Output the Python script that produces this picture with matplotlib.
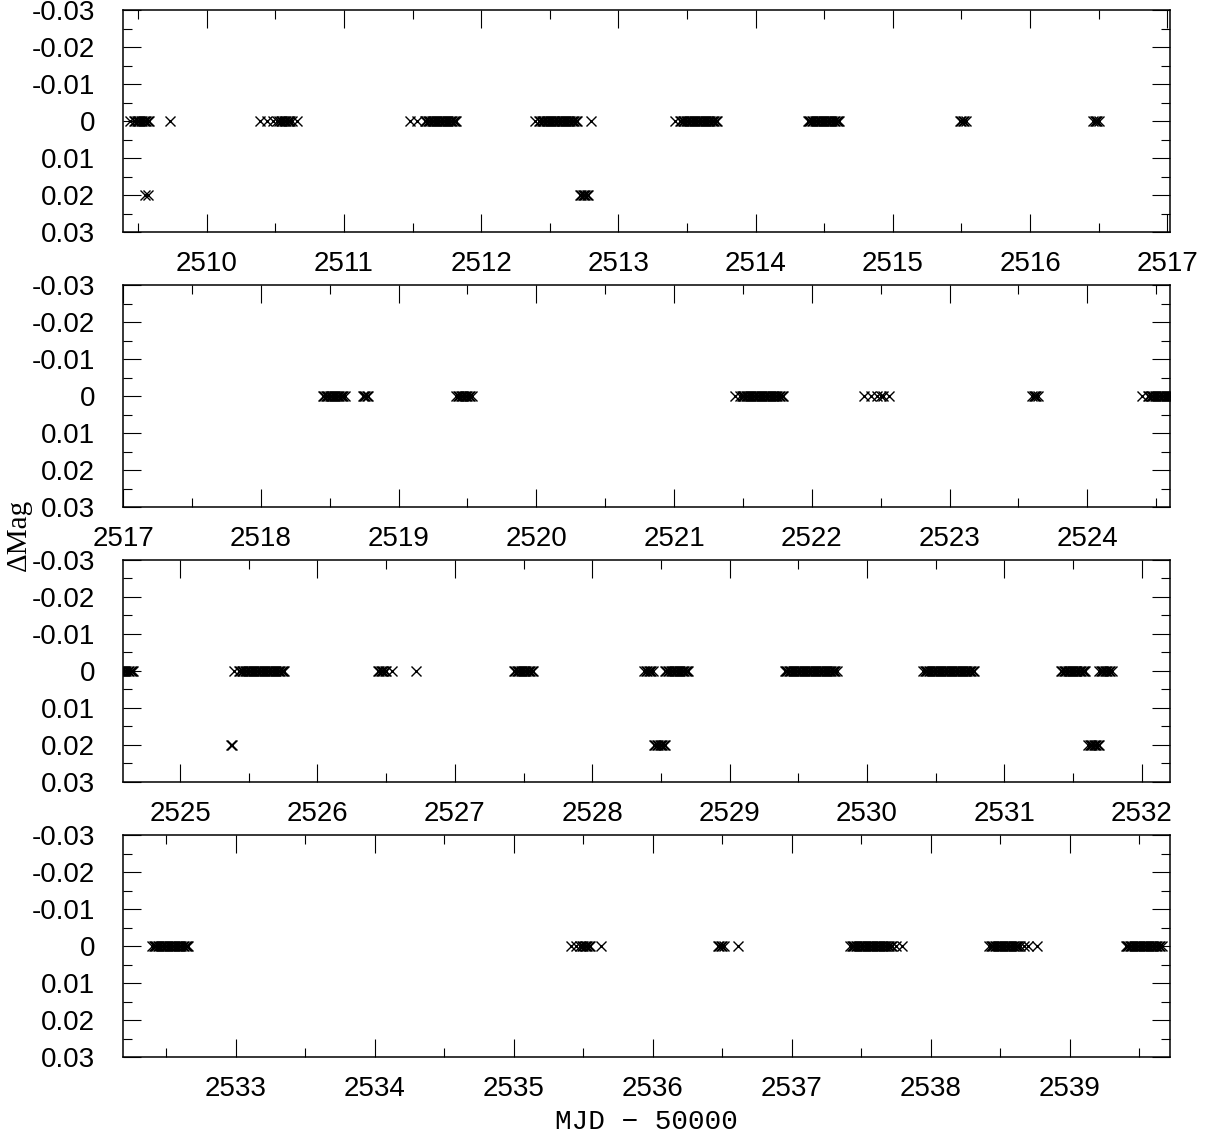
import matplotlib
matplotlib.use("Agg")
import matplotlib.pyplot as plt
from matplotlib.ticker import MultipleLocator, FuncFormatter
import numpy as np

plt.rcParams['font.family'] = ['Liberation Sans', 'DejaVu Sans']
plt.rcParams['axes.unicode_minus'] = False

# observation times (MJD - 50000) of points lying at dMag = 0
mjd_zero = [
    # 2509 - 2517
    2509.44, 2509.47, 2509.48, 2509.49, 2509.50, 2509.51, 2509.52, 2509.53, 2509.54, 2509.55,
    2509.56, 2509.57, 2509.58,
    2509.73,
    2510.39, 2510.44, 2510.48, 2510.51, 2510.53, 2510.54, 2510.55, 2510.56, 2510.57, 2510.58,
    2510.59, 2510.60, 2510.61, 2510.62, 2510.66,
    2511.48, 2511.53, 2511.59, 2511.60, 2511.61, 2511.62, 2511.63, 2511.64, 2511.65, 2511.66,
    2511.67, 2511.68, 2511.69, 2511.70, 2511.71, 2511.72, 2511.73, 2511.74, 2511.75, 2511.76,
    2511.77, 2511.78, 2511.79, 2511.80, 2511.81, 2511.82,
    2512.39, 2512.42, 2512.43, 2512.44, 2512.45, 2512.46, 2512.47, 2512.48, 2512.49, 2512.50,
    2512.51, 2512.52, 2512.53, 2512.54, 2512.55, 2512.56, 2512.57, 2512.58, 2512.59, 2512.60,
    2512.61, 2512.62, 2512.63, 2512.64, 2512.65, 2512.66, 2512.67, 2512.68, 2512.69, 2512.70,
    2512.80,
    2513.41, 2513.45, 2513.46, 2513.47, 2513.48, 2513.49, 2513.50, 2513.51, 2513.52, 2513.53,
    2513.54, 2513.55, 2513.56, 2513.57, 2513.58, 2513.59, 2513.60, 2513.61, 2513.62, 2513.63,
    2513.64, 2513.65, 2513.66, 2513.67, 2513.68, 2513.69, 2513.70, 2513.71, 2513.72,
    2514.38, 2514.39, 2514.40, 2514.41, 2514.42, 2514.43, 2514.44, 2514.45, 2514.46, 2514.47,
    2514.48, 2514.49, 2514.50, 2514.51, 2514.52, 2514.53, 2514.54, 2514.55, 2514.56, 2514.57,
    2514.58, 2514.59, 2514.60, 2514.61,
    2515.49, 2515.50, 2515.51, 2515.52, 2515.53,
    2516.46, 2516.47, 2516.48, 2516.49, 2516.50,
    # 2517 - 2524.6
    2518.45, 2518.46, 2518.47, 2518.48, 2518.49, 2518.50, 2518.51, 2518.52, 2518.53, 2518.54,
    2518.55, 2518.56, 2518.57, 2518.58, 2518.59, 2518.60, 2518.61,
    2518.74, 2518.75, 2518.76, 2518.77, 2518.78,
    2519.42, 2519.43, 2519.44, 2519.45, 2519.46, 2519.47, 2519.48, 2519.49, 2519.50, 2519.51,
    2519.52, 2519.53,
    2521.44, 2521.48, 2521.49, 2521.50, 2521.51, 2521.52, 2521.53, 2521.54, 2521.55, 2521.56,
    2521.57, 2521.58, 2521.59, 2521.60, 2521.61, 2521.62, 2521.63, 2521.64, 2521.65, 2521.66,
    2521.67, 2521.68, 2521.69, 2521.70, 2521.71, 2521.72, 2521.73, 2521.74, 2521.75, 2521.76,
    2521.77, 2521.78, 2521.79,
    2522.38, 2522.43, 2522.47, 2522.50, 2522.52, 2522.56,
    2523.60, 2523.61, 2523.62, 2523.63, 2523.64,
    2524.40, 2524.44, 2524.45, 2524.46, 2524.47, 2524.48, 2524.49, 2524.50, 2524.51, 2524.52,
    2524.53, 2524.54, 2524.55, 2524.56, 2524.57, 2524.58, 2524.59, 2524.60, 2524.61, 2524.62,
    2524.63, 2524.64, 2524.65, 2524.66,
    # 2524.6 - 2532.2
    2525.39, 2525.43, 2525.44, 2525.45, 2525.46, 2525.47, 2525.48, 2525.49, 2525.50, 2525.51,
    2525.52, 2525.53, 2525.54, 2525.55, 2525.56, 2525.57, 2525.58, 2525.59, 2525.60, 2525.61,
    2525.62, 2525.63, 2525.64, 2525.65, 2525.66, 2525.67, 2525.68, 2525.69, 2525.70, 2525.71,
    2525.72, 2525.73, 2525.74, 2525.75, 2525.76,
    2526.44, 2526.45, 2526.46, 2526.47, 2526.48, 2526.49, 2526.50, 2526.54,
    2526.72,
    2527.43, 2527.44, 2527.45, 2527.46, 2527.47, 2527.48, 2527.49, 2527.50, 2527.51, 2527.52,
    2527.53, 2527.54, 2527.55, 2527.56, 2527.57,
    2528.38, 2528.39, 2528.40, 2528.41, 2528.42, 2528.43, 2528.44,
    2528.53, 2528.54, 2528.55, 2528.56, 2528.57, 2528.58, 2528.59, 2528.60, 2528.61, 2528.62,
    2528.63, 2528.64, 2528.65, 2528.66, 2528.67, 2528.68, 2528.69, 2528.70,
    2529.40, 2529.41, 2529.42, 2529.43, 2529.44, 2529.45, 2529.46, 2529.47, 2529.48, 2529.49,
    2529.50, 2529.51, 2529.52, 2529.53, 2529.54, 2529.55, 2529.56, 2529.57, 2529.58, 2529.59,
    2529.60, 2529.61, 2529.62, 2529.63, 2529.64, 2529.65, 2529.66, 2529.67, 2529.68, 2529.69,
    2529.70, 2529.71, 2529.72, 2529.73, 2529.74, 2529.75, 2529.76, 2529.77, 2529.78,
    2530.41, 2530.42, 2530.43, 2530.44, 2530.45, 2530.46, 2530.47, 2530.48, 2530.49, 2530.50,
    2530.51, 2530.52, 2530.53, 2530.54, 2530.55, 2530.56, 2530.57, 2530.58, 2530.59, 2530.60,
    2530.61, 2530.62, 2530.63, 2530.64, 2530.65, 2530.66, 2530.67, 2530.68, 2530.69, 2530.70,
    2530.71, 2530.72, 2530.73, 2530.74, 2530.75, 2530.76, 2530.77, 2530.78,
    2531.41, 2531.42, 2531.43, 2531.44, 2531.45, 2531.46, 2531.47, 2531.48, 2531.49, 2531.50,
    2531.51, 2531.52, 2531.53, 2531.54, 2531.55, 2531.56, 2531.57, 2531.58, 2531.59,
    2531.69, 2531.70, 2531.71, 2531.72, 2531.73, 2531.74, 2531.75, 2531.76, 2531.77, 2531.78,
    # 2532.2 - 2539.7
    2532.40, 2532.41, 2532.42, 2532.43, 2532.44, 2532.45, 2532.46, 2532.47, 2532.48, 2532.49,
    2532.50, 2532.51, 2532.52, 2532.53, 2532.54, 2532.55, 2532.56, 2532.57, 2532.58, 2532.59,
    2532.60, 2532.61, 2532.62, 2532.63, 2532.64, 2532.65, 2532.66,
    2535.41, 2535.45, 2535.48, 2535.49, 2535.50, 2535.51, 2535.52, 2535.53, 2535.54, 2535.55,
    2535.63,
    2536.47, 2536.48, 2536.49, 2536.50, 2536.51,
    2536.61,
    2537.42, 2537.43, 2537.44, 2537.45, 2537.46, 2537.47, 2537.48, 2537.49, 2537.50, 2537.51,
    2537.52, 2537.53, 2537.54, 2537.55, 2537.56, 2537.57, 2537.58, 2537.59, 2537.60, 2537.61,
    2537.62, 2537.63, 2537.64, 2537.65, 2537.66, 2537.67, 2537.68, 2537.69, 2537.70, 2537.71,
    2537.72, 2537.75, 2537.79,
    2538.42, 2538.43, 2538.44, 2538.45, 2538.46, 2538.47, 2538.48, 2538.49, 2538.50, 2538.51,
    2538.52, 2538.53, 2538.54, 2538.55, 2538.56, 2538.57, 2538.58, 2538.59, 2538.60, 2538.61,
    2538.62, 2538.63, 2538.64, 2538.67, 2538.70, 2538.76,
    2539.40, 2539.41, 2539.42, 2539.43, 2539.44, 2539.45, 2539.46, 2539.47, 2539.48, 2539.49,
    2539.50, 2539.51, 2539.52, 2539.53, 2539.54, 2539.55, 2539.56, 2539.57, 2539.58, 2539.59,
    2539.60, 2539.61, 2539.62, 2539.63, 2539.64, 2539.65, 2539.66,
]

# observation times of points lying at dMag = 0.02
mjd_low = [
    2509.55, 2509.57,
    2512.72, 2512.73, 2512.74, 2512.75, 2512.76, 2512.77, 2512.78,
    2525.37, 2525.38,
    2528.45, 2528.46, 2528.47, 2528.48, 2528.49, 2528.50, 2528.51, 2528.52, 2528.53,
    2531.61, 2531.62, 2531.63, 2531.64, 2531.65, 2531.66, 2531.67, 2531.68, 2531.69,
]

level_zero = 0.0
level_low = 0.02

# x range covered by each strip
panel_ranges = [
    (2509.39, 2517.02),
    (2517.0, 2524.6),
    (2524.585, 2532.205),
    (2532.19, 2539.72),
]

W, H = 1211, 1142
fig = plt.figure(figsize=(W / 100, H / 100), dpi=100)

ax_left = 123 / W
ax_width = 1047 / W
ax_height = 222 / H
panel_bottoms = [232, 507, 782, 1057]

dmag_zero = np.full(len(mjd_zero), level_zero)
dmag_low = np.full(len(mjd_low), level_low)


def mag_fmt(v, pos):
    if abs(v) < 1e-9:
        return "0"
    return "%g" % round(v, 3)


for (x0, x1), yb in zip(panel_ranges, panel_bottoms):
    ax = fig.add_axes([ax_left, 1 - yb / H, ax_width, ax_height])
    ax.plot(mjd_zero, dmag_zero, 'x', color='black', ms=6.5, mew=1.0)
    ax.plot(mjd_low, dmag_low, 'x', color='black', ms=6.5, mew=1.0)
    ax.set_xlim(x0, x1)
    ax.set_ylim(0.03, -0.03)

    ax.xaxis.set_major_locator(MultipleLocator(1))
    ax.xaxis.set_minor_locator(MultipleLocator(0.5))
    ax.yaxis.set_major_locator(MultipleLocator(0.01))
    ax.yaxis.set_minor_locator(MultipleLocator(0.005))
    ax.xaxis.set_major_formatter(FuncFormatter(lambda v, p: "%d" % round(v)))
    ax.yaxis.set_major_formatter(FuncFormatter(mag_fmt))

    ax.tick_params(which='both', direction='in', top=True, right=True, width=0.8)
    ax.tick_params(which='major', length=13)
    ax.tick_params(which='minor', length=6.5)
    ax.tick_params(axis='x', which='major', labelsize=20, pad=14)
    ax.tick_params(axis='y', which='major', labelsize=20, pad=20)
    for s in ax.spines.values():
        s.set_linewidth(1.1)

# axis titles shared by all strips
fig.text(19 / W, 1 - 535 / H, "\u0394Mag", rotation=90, ha='center', va='center',
         fontsize=21, family=['Liberation Serif', 'DejaVu Serif'])
fig.text(646 / W, 1 - 1122 / H, "MJD \u2212 50000", ha='center', va='center',
         fontsize=20, family=['Liberation Mono', 'DejaVu Sans Mono'])

fig.savefig("out.png", dpi=100)
